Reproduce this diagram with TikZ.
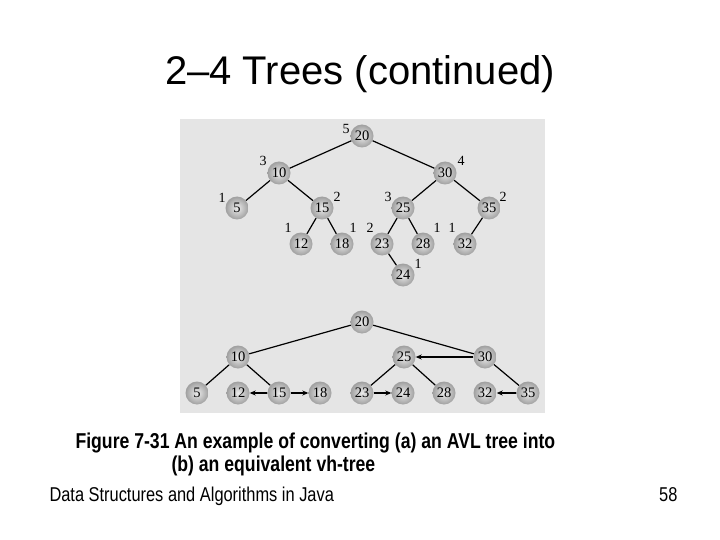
\documentclass[tikz,border=0pt]{standalone}
\usepackage{fontspec}
\setmainfont{Liberation Serif}
\newfontfamily\titlefont{Liberation Sans}
\newfontfamily\narrowfont[FakeStretch=0.82]{Liberation Sans}
\usetikzlibrary{arrows.meta}

\begin{document}
\begin{tikzpicture}[x=1pt, y=-1pt,
    knot/.style={circle, minimum size=23pt, inner sep=0pt, inner color=gray!15, outer color=gray!75, font=\fontsize{14.5}{14.5}\selectfont},
    bal/.style={inner sep=0pt, font=\fontsize{14}{14}\selectfont},
    link/.style={line width=1.2pt},
    hop/.style={line width=1.2pt, -{Stealth[length=6pt, width=5pt]}}]
    \useasboundingbox (0,0) rectangle (720,540);
    \fill[gray!20] (180,119) rectangle (545,413);

    \node[anchor=base, font=\titlefont\fontsize{40}{48}\selectfont] (title) at (360,85) {2–4 Trees (continued)};

    % Arvore AVL
    \node[knot] (a20) at (362,136) {20};
    \node[knot] (a10) at (279,173) {10};
    \node[knot] (a30) at (445,173) {30};
    \node[knot] (a5) at (237,208) {5};
    \node[knot] (a15) at (322,208) {15};
    \node[knot] (a25) at (403,208) {25};
    \node[knot] (a35) at (489,208) {35};
    \node[knot] (a12) at (301,244) {12};
    \node[knot] (a18) at (342,244) {18};
    \node[knot] (a23) at (382,244) {23};
    \node[knot] (a28) at (423,244) {28};
    \node[knot] (a32) at (465,244) {32};
    \node[knot] (a24) at (403,275) {24};

    \draw[link] (a20) -- (a10);
    \draw[link] (a20) -- (a30);
    \draw[link] (a10) -- (a5);
    \draw[link] (a10) -- (a15);
    \draw[link] (a15) -- (a12);
    \draw[link] (a15) -- (a18);
    \draw[link] (a30) -- (a25);
    \draw[link] (a30) -- (a35);
    \draw[link] (a25) -- (a23);
    \draw[link] (a25) -- (a28);
    \draw[link] (a35) -- (a32);
    \draw[link] (a23) -- (a24);

    \node[bal] (h20) at (346,129) {5};
    \node[bal] (h10) at (263,161) {3};
    \node[bal] (h30) at (461,161) {4};
    \node[bal] (h5) at (222,198) {1};
    \node[bal] (h15) at (337,197) {2};
    \node[bal] (h25) at (388,197) {3};
    \node[bal] (h35) at (503,197) {2};
    \node[bal] (h12) at (288,228) {1};
    \node[bal] (h18) at (353,228) {1};
    \node[bal] (h23) at (370,228) {2};
    \node[bal] (h28) at (437,228) {1};
    \node[bal] (h32) at (452,228) {1};
    \node[bal] (h24) at (418,264) {1};

    % vh-tree
    \node[knot] (b20) at (362,322) {20};
    \node[knot] (b10) at (238,357) {10};
    \node[knot] (b25) at (404,357) {25};
    \node[knot] (b30) at (485,357) {30};
    \node[knot] (b5) at (197,393) {5};
    \node[knot] (b12) at (238,393) {12};
    \node[knot] (b15) at (279,393) {15};
    \node[knot] (b18) at (320,393) {18};
    \node[knot] (b23) at (362,393) {23};
    \node[knot] (b24) at (403,393) {24};
    \node[knot] (b28) at (444,393) {28};
    \node[knot] (b32) at (485,393) {32};
    \node[knot] (b35) at (528,393) {35};

    \draw[link] (b20) -- (b10);
    \draw[link] (b20) -- (b30);
    \draw[link] (b10) -- (b5);
    \draw[link] (b10) -- (b15);
    \draw[link] (b25) -- (b23);
    \draw[link] (b25) -- (b28);
    \draw[link] (b30) -- (b35);
    \draw[hop] (b15) -- (b12);
    \draw[hop] (b15) -- (b18);
    \draw[hop] (b30) -- (b25);
    \draw[hop] (b23) -- (b24);
    \draw[hop] (b35) -- (b32);

    \node[anchor=base west, font=\narrowfont\bfseries\fontsize{21.5}{26}\selectfont] (cap1) at (72,448) {Figure 7-31 An example of converting (a) an AVL tree into};
    \node[anchor=base west, font=\narrowfont\bfseries\fontsize{21.5}{26}\selectfont] (cap2) at (168,471) {(b) an equivalent vh-tree};
    \node[anchor=base west, font=\narrowfont\fontsize{20}{23}\selectfont] (foot) at (46,501) {Data Structures and Algorithms in Java};
    \node[anchor=base east, font=\narrowfont\fontsize{20}{23}\selectfont] (page) at (681,501) {58};
\end{tikzpicture}
\end{document}
